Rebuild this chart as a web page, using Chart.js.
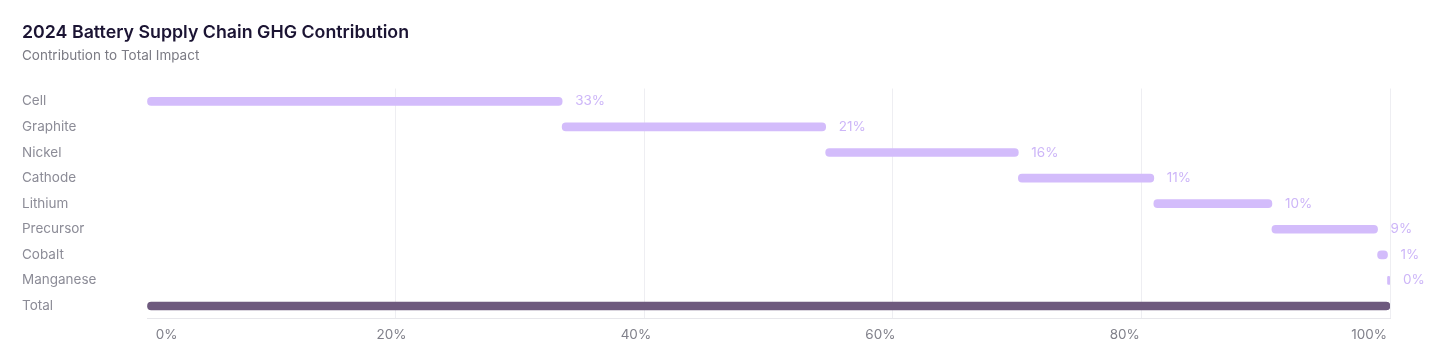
<!DOCTYPE html>
<html>
<head>
<meta charset="utf-8">
<script src="https://cdn.jsdelivr.net/npm/chart.js"></script>
<style>
  body { margin: 0; background: #fff; }
  #wrap { width: 1456px; height: 357px; }
</style>
</head>
<body>
<div id="wrap"><canvas id="myChart"></canvas></div>
<script>
const categories = ['Cell', 'Graphite', 'Nickel', 'Cathode', 'Lithium', 'Precursor', 'Cobalt', 'Manganese', 'Total'];
// share of total impact, in percent (Total is the sum)
const shares = [33.4, 21.2, 15.5, 10.9, 9.5, 8.5, 0.8, 0.2];
const xTickValues = [0, 20, 40, 60, 80, 100];
const xTickLabels = ['0%', '20%', '40%', '60%', '80%', '100%'];

// Build the waterfall ranges
let running = 0;
const ranges = shares.map(s => {
    const r = [running, running + s];
    running += s;
    return r;
});
ranges.push([0, running]);

const barColors = categories.map(c => c === 'Total' ? '#6e5a7e' : '#d3bcfb');

const valueLabels = {
    id: 'valueLabels',
    afterDatasetsDraw(chart) {
        const ctx = chart.ctx;
        const meta = chart.getDatasetMeta(0);
        ctx.save();
        ctx.font = '13.5px Inter';
        ctx.fillStyle = '#cdb6f8';
        ctx.textAlign = 'left';
        ctx.textBaseline = 'middle';
        meta.data.forEach((bar, i) => {
            if (i >= shares.length) return;
            ctx.fillText(Math.round(shares[i]) + '%', bar.x + 13, bar.y);
        });
        ctx.restore();
    }
};

const ctx = document.getElementById('myChart').getContext('2d');
new Chart(ctx, {
    type: 'bar',
    data: {
        labels: categories,
        datasets: [{
            data: ranges,
            backgroundColor: barColors,
            barThickness: 8,
            borderRadius: 4,
            borderSkipped: false
        }]
    },
    options: {
        indexAxis: 'y',
        responsive: true,
        maintainAspectRatio: false,
        animation: false,
        layout: {
            padding: { left: 22, right: 66, top: 0, bottom: 14 }
        },
        plugins: {
            legend: { display: false },
            tooltip: { enabled: false },
            title: {
                display: true,
                text: '2024 Battery Supply Chain GHG Contribution',
                align: 'start',
                color: '#1b1433',
                font: { family: 'Inter', size: 17.8, weight: '600' },
                padding: { top: 22, bottom: 2 }
            },
            subtitle: {
                display: true,
                text: 'Contribution to Total Impact',
                align: 'start',
                color: '#7b7b84',
                font: { family: 'Inter', size: 13.5 },
                padding: { top: 2, bottom: 25 }
            }
        },
        scales: {
            x: {
                type: 'linear',
                position: 'bottom',
                min: 0,
                max: 100,
                grid: {
                    color: c => c.tick && c.tick.value === 0 ? 'rgba(0,0,0,0)' : '#eeeef2',
                    drawTicks: false
                },
                border: { display: true, color: '#e7e7eb' },
                ticks: { display: false, stepSize: 20 },
                afterFit: scale => { scale.height = 0; }
            },
            xLabels: {
                type: 'linear',
                position: 'bottom',
                min: 0,
                max: 101.7,
                grid: { display: false },
                border: { display: false },
                afterBuildTicks: scale => {
                    // first label is nudged to sit inside the axis start
                    scale.ticks = xTickValues.map((v, i) => ({ value: i === 0 ? v + 1.6 : v }));
                },
                ticks: {
                    padding: 0,
                    color: '#80808a',
                    font: { family: 'Inter', size: 13.5 },
                    maxRotation: 0,
                    callback: (v, i) => xTickLabels[i]
                }
            },
            y: {
                grid: { display: false },
                border: { display: false },
                ticks: {
                    crossAlign: 'far',
                    color: '#8c8c97',
                    font: { family: 'Inter', size: 13.5 }
                },
                afterFit: scale => { scale.width = 125; }
            }
        }
    },
    plugins: [valueLabels]
});
</script>
</body>
</html>
